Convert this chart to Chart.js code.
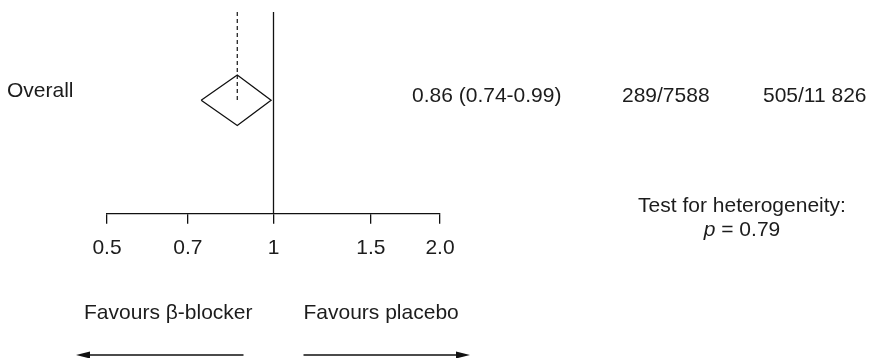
<!DOCTYPE html>
<html>
<head>
<meta charset="utf-8">
<script src="https://cdn.jsdelivr.net/npm/chart.js@4.4.1/dist/chart.umd.min.js"></script>
<style>
  html, body { margin: 0; padding: 0; background: #fff; }
  #wrap { width: 870px; height: 358px; }
</style>
</head>
<body>
<div id="wrap"><canvas id="forest"></canvas></div>
<script>
  // pooled estimate (odds ratio with 95% CI)
  const rowLabel = 'Overall';
  const pooled = [0.86];
  const ciLow = [0.74];
  const ciHigh = [0.99];
  const eventsBeta = ['289/7588'];
  const eventsPlacebo = ['505/11 826'];
  const rowY = [3.5];            // row position on the (hidden) y axis
  const halfHeight = 1;          // diamond half height, y units

  // axis
  const tickValues = [0.5, 0.7, 1, 1.5, 2];
  const tickLabels = ['0.5', '0.7', '1', '1.5', '2.0'];

  const ink = '#111';
  const textCol = '#1c1c1c';
  const fontFam = '"Liberation Sans", Arial, Helvetica, sans-serif';

  const diamond = [
    { x: ciLow[0], y: rowY[0] },
    { x: pooled[0], y: rowY[0] - halfHeight },
    { x: ciHigh[0], y: rowY[0] },
    { x: pooled[0], y: rowY[0] + halfHeight },
    { x: ciLow[0], y: rowY[0] }
  ];

  // labels, columns and arrows around the plot
  const extras = {
    id: 'extras',
    afterDraw(chart) {
      const ctx = chart.ctx;
      const x = chart.scales.x;
      const p1 = x.getPixelForValue(1);
      ctx.save();
      ctx.fillStyle = textCol;
      ctx.font = '21px ' + fontFam;
      ctx.textBaseline = 'alphabetic';
      ctx.textAlign = 'left';
      ctx.fillText(rowLabel, 7, 97);
      const est = pooled[0].toFixed(2) + ' (' + ciLow[0].toFixed(2) + '-' + ciHigh[0].toFixed(2) + ')';
      ctx.fillText(est, 412, 102);
      ctx.fillText(eventsBeta[0], 622, 102);
      ctx.fillText(eventsPlacebo[0], 763, 102);

      ctx.textAlign = 'center';
      ctx.fillText('Test for heterogeneity:', 742, 212);
      ctx.font = 'italic 21px ' + fontFam;
      const pw = ctx.measureText('p').width;
      ctx.font = '21px ' + fontFam;
      const rest = ' = 0.79';
      const rw = ctx.measureText(rest).width;
      const startX = 742 - (pw + rw) / 2;
      ctx.textAlign = 'left';
      ctx.font = 'italic 21px ' + fontFam;
      ctx.fillText('p', startX, 236);
      ctx.font = '21px ' + fontFam;
      ctx.fillText(rest, startX + pw, 236);

      ctx.textAlign = 'right';
      ctx.fillText('Favours \u03b2-blocker', p1 - 21, 319);
      ctx.textAlign = 'left';
      ctx.fillText('Favours placebo', p1 + 30, 319);

      // arrows
      const ay = 355;
      ctx.strokeStyle = ink;
      ctx.lineWidth = 1.3;
      ctx.beginPath();
      ctx.moveTo(p1 - 30, ay); ctx.lineTo(86, ay);
      ctx.moveTo(p1 + 30, ay); ctx.lineTo(460, ay);
      ctx.stroke();
      ctx.fillStyle = ink;
      ctx.beginPath();
      ctx.moveTo(76, ay); ctx.lineTo(90, ay - 3.5); ctx.lineTo(90, ay + 3.5); ctx.closePath();
      ctx.fill();
      ctx.beginPath();
      ctx.moveTo(470, ay); ctx.lineTo(456, ay - 3.5); ctx.lineTo(456, ay + 3.5); ctx.closePath();
      ctx.fill();
      ctx.restore();
    }
  };

  new Chart(document.getElementById('forest').getContext('2d'), {
    type: 'scatter',
    data: {
      datasets: [
        {
          label: 'pooled',
          data: diamond,
          showLine: true,
          borderColor: ink,
          borderWidth: 1.3,
          pointRadius: 0,
          tension: 0
        },
        {
          label: 'pooled line',
          data: [{ x: pooled[0], y: 0 }, { x: pooled[0], y: rowY[0] }],
          showLine: true,
          borderColor: ink,
          borderWidth: 1.2,
          borderDash: [4, 3],
          pointRadius: 0
        },
        {
          label: 'no effect',
          data: [{ x: 1, y: 0 }, { x: 1, y: 8 }],
          showLine: true,
          borderColor: ink,
          borderWidth: 1.3,
          pointRadius: 0
        }
      ]
    },
    options: {
      responsive: true,
      maintainAspectRatio: false,
      animation: false,
      layout: { padding: { left: 107, right: 430, top: 12, bottom: 85 } },
      plugins: {
        legend: { display: false },
        tooltip: { enabled: false }
      },
      scales: {
        x: {
          type: 'logarithmic',
          min: 0.5,
          max: 2,
          afterBuildTicks: (axis) => { axis.ticks = tickValues.map(v => ({ value: v })); },
          grid: { drawOnChartArea: false, drawTicks: true, tickLength: 10, color: ink, lineWidth: 1.3 },
          border: { display: true, color: ink, width: 1.3 },
          ticks: {
            autoSkip: false,
            maxRotation: 0,
            padding: 12,
            color: textCol,
            font: { family: fontFam, size: 21 },
            callback: (v) => {
              const i = tickValues.indexOf(v);
              return i >= 0 ? tickLabels[i] : '';
            }
          }
        },
        y: {
          type: 'linear',
          min: 0,
          max: 8,
          reverse: true,
          display: false
        }
      }
    },
    plugins: [extras]
  });
</script>
</body>
</html>
